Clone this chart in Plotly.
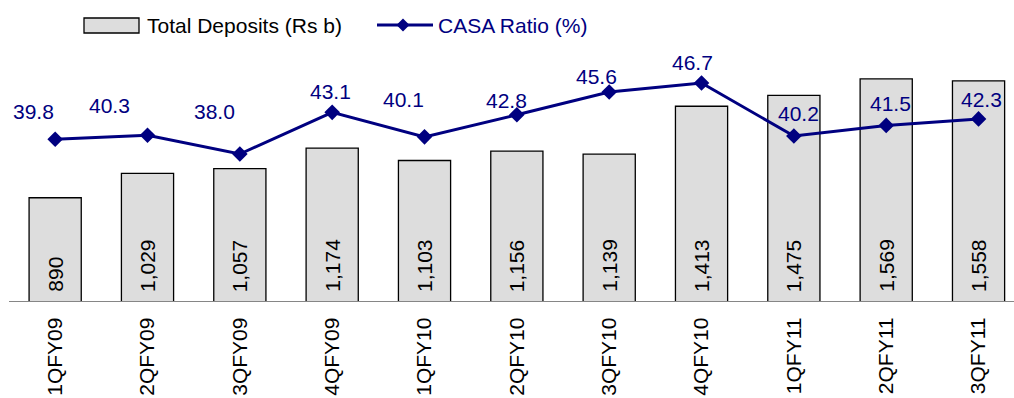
import plotly.graph_objects as go

# ---- data ----
QUARTERS = ["1QFY09", "2QFY09", "3QFY09", "4QFY09", "1QFY10", "2QFY10",
            "3QFY10", "4QFY10", "1QFY11", "2QFY11", "3QFY11"]
TOTAL_DEPOSITS = [890, 1029, 1057, 1174, 1103, 1156, 1139, 1413, 1475, 1569, 1558]
CASA_RATIO = [39.8, 40.3, 38.0, 43.1, 40.1, 42.8, 45.6, 46.7, 40.2, 41.5, 42.3]

# label offsets (pixels) for the CASA labels, as placed in the reference
LABEL_DX = [-22, -38, -25, -2, -21, -10, -13, -9, 5, 4, 3]
LABEL_DY = [28, 30, 43, 21, 37, 14, 15, 20, 23, 22, 19]

W, H = 1014, 398
ML, MR, MT, MB = 9, 0, 56, 97
PW, PH = W - ML - MR, H - MT - MB

NAVY = "#000080"
FONT = "Liberation Sans, Arial, sans-serif"
FS = 21


def px(x):
    return (x - ML) / PW


def py(y):
    return (H - MB - y) / PH


fig = go.Figure()
fig.add_trace(go.Bar(
    x=QUARTERS, y=TOTAL_DEPOSITS, name="Total Deposits (Rs b)",
    marker=dict(color="#dddddd", line=dict(color="#000000", width=1.3)),
    width=0.565, yaxis="y", hoverinfo="x+y",
))
fig.add_trace(go.Scatter(
    x=QUARTERS, y=CASA_RATIO, name="CASA Ratio (%)", yaxis="y2",
    mode="lines+markers",
    line=dict(color=NAVY, width=3),
    marker=dict(symbol="diamond", size=12, color=NAVY),
))

annotations = []
for q, v in zip(QUARTERS, TOTAL_DEPOSITS):
    annotations.append(dict(
        x=q, y=300, xref="x", yref="y", text=f"{v:,}", textangle=-90,
        showarrow=False, xanchor="center", yanchor="bottom", yshift=7,
        font=dict(family=FONT, size=FS, color="#000000"),
    ))
for q, v, dx, dy in zip(QUARTERS, CASA_RATIO, LABEL_DX, LABEL_DY):
    annotations.append(dict(
        x=q, y=v, xref="x", yref="y2", text=f"{v:.1f}",
        showarrow=False, xanchor="center", yanchor="middle",
        xshift=dx, yshift=dy,
        font=dict(family=FONT, size=FS, color=NAVY),
    ))

# custom legend
annotations.append(dict(
    x=px(145), y=py(25), xref="paper", yref="paper", text="Total Deposits (Rs b)",
    showarrow=False, xanchor="left", yanchor="middle",
    font=dict(family=FONT, size=FS, color="#000000"),
))
annotations.append(dict(
    x=px(436), y=py(25), xref="paper", yref="paper", text="CASA Ratio (%)",
    showarrow=False, xanchor="left", yanchor="middle",
    font=dict(family=FONT, size=FS, color=NAVY),
))
dx_d, dy_d = 6.5 / PW, 6.5 / PH
cx, cy = px(403), py(25)
shapes = [
    dict(type="rect", xref="paper", yref="paper",
         x0=px(84), x1=px(139), y0=py(33), y1=py(18),
         fillcolor="#dddddd", line=dict(color="#000000", width=1.3)),
    dict(type="line", xref="paper", yref="paper",
         x0=px(377), x1=px(433), y0=py(25), y1=py(25),
         line=dict(color=NAVY, width=3)),
    dict(type="path", xref="paper", yref="paper",
         path=f"M {cx-dx_d} {cy} L {cx} {cy+dy_d} L {cx+dx_d} {cy} L {cx} {cy-dy_d} Z",
         fillcolor=NAVY, line=dict(color=NAVY, width=0)),
]

fig.update_layout(
    width=W, height=H,
    margin=dict(l=ML, r=MR, t=MT, b=MB, pad=0),
    paper_bgcolor="white", plot_bgcolor="white",
    showlegend=False,
    font=dict(family=FONT, size=FS, color="#000000"),
    xaxis=dict(
        type="category", range=[-0.5, 10.384],
        showline=True, linecolor="#868686", linewidth=1.3,
        showgrid=False, zeroline=False, ticks="",
        tickangle=-90, ticklabelstandoff=7,
        tickfont=dict(family=FONT, size=FS, color="#000000"),
    ),
    yaxis=dict(range=[300, 1700], visible=False, showgrid=False, zeroline=False),
    yaxis2=dict(range=[20, 50], overlaying="y", side="right", visible=False,
                showgrid=False, zeroline=False),
    annotations=annotations,
    shapes=shapes,
)

fig.write_html("out.html")
